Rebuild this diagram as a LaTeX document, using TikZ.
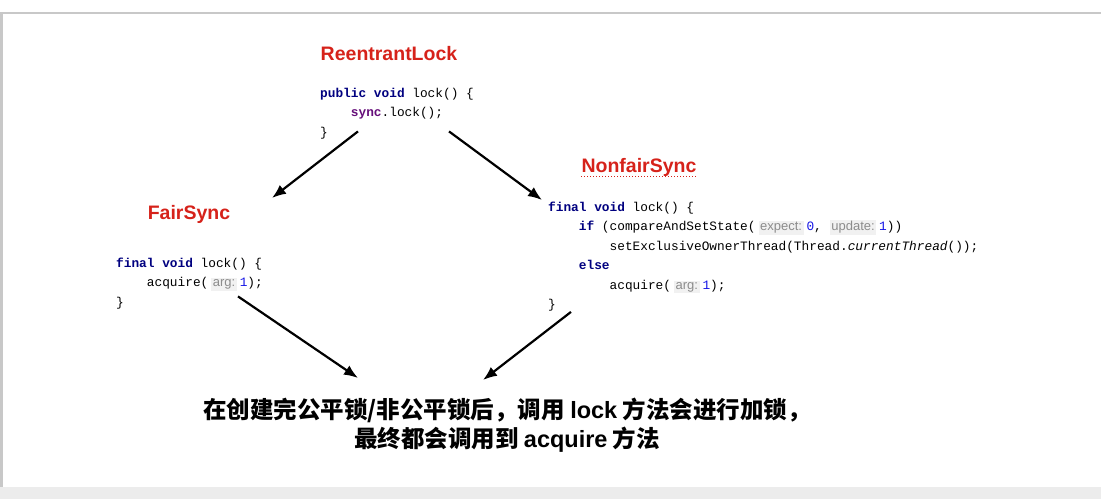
\documentclass[tikz,border=0pt]{standalone}
\usepackage{fontspec}
\setmainfont{Liberation Sans}
\newfontfamily\codefont{Liberation Mono}
\newfontfamily\cjkfont{Noto Sans CJK SC}
\usetikzlibrary{positioning,arrows.meta,calc}

\definecolor{titlered}{RGB}{214,34,26}
\definecolor{kwblue}{RGB}{0,0,128}
\definecolor{syncpurple}{RGB}{102,14,122}
\definecolor{numblue}{RGB}{20,20,230}
\definecolor{hintgray}{RGB}{140,140,140}
\definecolor{hintbg}{RGB}{241,241,241}
\definecolor{framegray}{RGB}{200,200,200}
\definecolor{stripgray}{RGB}{236,236,236}

\newcommand\kw[1]{\textbf{\color{kwblue}#1}}
\newcommand\num[1]{{\color{numblue}#1}}
\newcommand\tab{\phantom{xxxx}}
\newcommand\hint[1]{\begingroup\setlength\fboxsep{1.5pt}\colorbox{hintbg}{\normalfont\fontsize{13}{13}\selectfont\color{hintgray}#1}\endgroup}
\newcommand\latin[1]{{\normalfont\bfseries #1}}
\newcommand\topstrut{\rule{0pt}{11pt}}
\newcommand\botstrut{\rule[-4pt]{0pt}{4pt}}

\begin{document}
\begin{tikzpicture}[x=1pt,y=-1pt,
  title/.style={inner sep=0pt, font=\bfseries\fontsize{19.5}{20}\selectfont, text=titlered},
  code/.style={inner sep=0pt, anchor=north west, align=left, font=\codefont\fontsize{12.8}{19.5}\selectfont},
  note/.style={inner sep=0pt, align=center, font=\cjkfont\bfseries\fontsize{23.5}{29}\selectfont},
  arrow/.style={-{Latex[length=14pt,width=11pt]}, line width=2.2pt}
]
\useasboundingbox (0,0) rectangle (1101,499);
% screen frame
\fill[white] (0,0) rectangle (1101,499);
\draw[framegray, line width=1.2pt] (0,13) -- (1101,13);
\fill[framegray] (0,13) rectangle (3,499);
\fill[stripgray] (0,487) rectangle (1101,499);

\node[title] (reentTitle) at (389,54) {ReentrantLock};
\node[code] (reentCode) at (320,86) {\topstrut\kw{public void} lock() \{\\
\tab{\bfseries\color{syncpurple}sync}.lock();\\
\}\botstrut};

\node[title] (fairTitle) at (189,214) {FairSync};
\node[code] (fairCode) at (116,256) {\topstrut\kw{final void} lock() \{\\
\tab acquire(\hspace{3pt}\hint{arg:}\hspace{3pt}\num{1});\\
\}\botstrut};

\node[title] (nonfairTitle) at (639,167) {NonfairSync};
\draw[titlered, dotted, line width=1pt] ($(nonfairTitle.base west)+(0,4)$) -- ($(nonfairTitle.base east)+(0,4)$);
\node[code] (nonfairCode) at (548,200) {\topstrut\kw{final void} lock() \{\\
\tab\kw{if} (compareAndSetState(\hspace{3pt}\hint{expect:}\hspace{3pt}\num{0},\hspace{8pt}\hint{update:}\hspace{3pt}\num{1}))\\
\tab\tab setExclusiveOwnerThread(Thread.\textit{currentThread}());\\
\tab\kw{else}\\
\tab\tab acquire(\hspace{3pt}\hint{arg:}\hspace{3pt}\num{1});\\
\}\botstrut};

\node[note] (summary) at (507,425) {在创建完公平锁/非公平锁后，调用 \latin{lock} 方法会进行加锁，\\最终都会调用到 \latin{acquire} 方法};

\draw[arrow] ($(reentCode.south west)+(38,-9)$) -- ($(fairTitle.center)+(83,-16)$);
\draw[arrow] ($(reentCode.south west)+(129,-9)$) -- ($(nonfairCode.north west)+(-6,0)$);
\draw[arrow] ($(fairCode.south west)+(122,-14)$) -- ($(summary.center)+(-149,-47)$);
\draw[arrow] ($(nonfairCode.south west)+(23,-1)$) -- ($(summary.center)+(-24,-45)$);
\end{tikzpicture}
\end{document}
